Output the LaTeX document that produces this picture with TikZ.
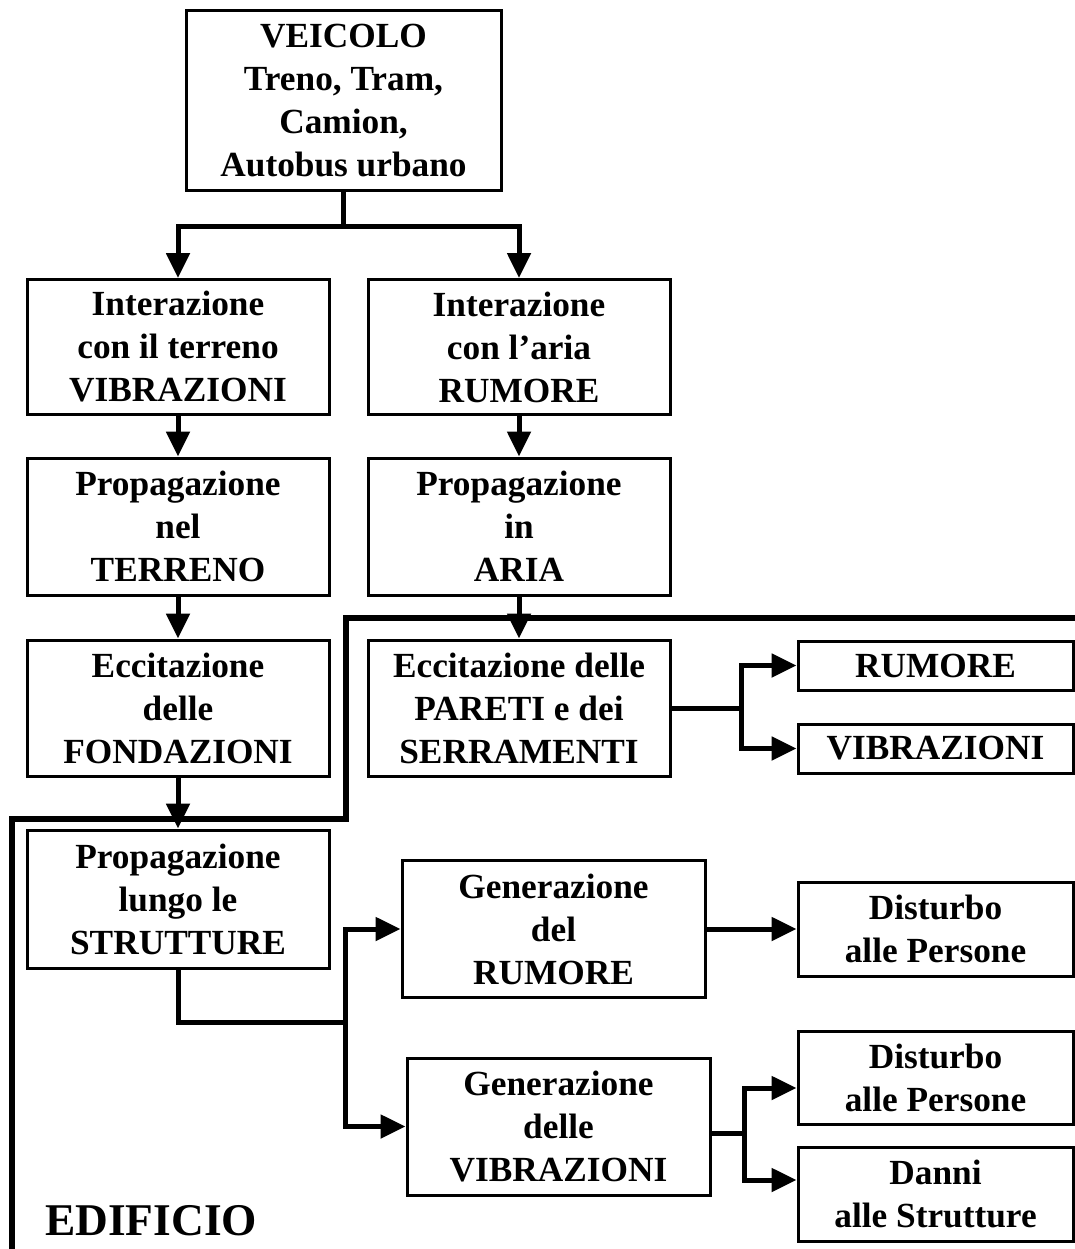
\documentclass[tikz,border=0pt]{standalone}
\usepackage{fontspec}
\setmainfont{Liberation Serif}
\usetikzlibrary{arrows.meta}
\begin{document}
\begin{tikzpicture}[x=1pt,y=-1pt,
  box/.style={draw=black,line width=3pt,rectangle,inner sep=0pt,align=center,
    font=\fontsize{35.3}{43}\selectfont\bfseries},
  conn/.style={line width=5pt,line cap=butt},
  arr/.style={conn,-{Triangle[length=25pt,width=23pt]}},
  wall/.style={line width=6pt,line join=miter}
]
\useasboundingbox (0,0) rectangle (1075,1249);
% boxes
\node[box,minimum width=315,minimum height=180] (veic) at (343.5,101) {VEICOLO\\Treno, Tram,\\Camion,\\Autobus urbano};
\node[box,minimum width=302,minimum height=135] (intT) at (178,347) {Interazione\\con il terreno\\VIBRAZIONI};
\node[box,minimum width=302,minimum height=135] (intA) at (519,347) {Interazione\\con l’aria\\RUMORE};
\node[box,minimum width=302,minimum height=137] (propT) at (178,526.5) {Propagazione\\nel\\TERRENO};
\node[box,minimum width=302,minimum height=137] (propA) at (519,526.5) {Propagazione\\in\\ARIA};
\node[box,minimum width=302,minimum height=136] (eccF) at (178,708) {Eccitazione\\delle\\FONDAZIONI};
\node[box,minimum width=302,minimum height=136] (eccP) at (519,708) {Eccitazione delle\\PARETI e dei\\SERRAMENTI};
\node[box,minimum width=275,minimum height=49] (rum1) at (935.5,665.5) {RUMORE};
\node[box,minimum width=275,minimum height=49] (vib1) at (935.5,748.5) {VIBRAZIONI};
\node[box,minimum width=302,minimum height=138] (propS) at (178,899) {Propagazione\\lungo le\\STRUTTURE};
\node[box,minimum width=303,minimum height=137] (genR) at (553.5,929) {Generazione\\del\\RUMORE};
\node[box,minimum width=303,minimum height=137] (genV) at (558.5,1126.5) {Generazione\\delle\\VIBRAZIONI};
\node[box,minimum width=275,minimum height=94] (dist1) at (935.5,929) {Disturbo\\alle Persone};
\node[box,minimum width=275,minimum height=93] (dist2) at (935.5,1077.5) {Disturbo\\alle Persone};
\node[box,minimum width=275,minimum height=94] (danni) at (935.5,1194) {Danni\\alle Strutture};
\node[anchor=base west,inner sep=0pt,font=\fontsize{45.4}{50}\selectfont\bfseries] (edif) at (45,1235) {EDIFICIO};
% building outline
\coordinate (w1) at (1075,618);
\coordinate (w2) at (346,618);
\coordinate (w3) at (346,819);
\coordinate (w4) at (12,819);
\coordinate (w5) at (12,1249);
\draw[wall] (w1) -- (w2) -- (w3) -- (w4) -- (w5);
% connectors
\coordinate (j1) at ([yshift=-34pt]veic.south);
\draw[conn] (veic.south) -- (j1);
\draw[arr] (j1) -| (intT.north);
\draw[arr] (j1) -| (intA.north);
\draw[arr] (intT) -- (propT);
\draw[arr] (intA) -- (propA);
\draw[arr] (propT) -- (eccF);
\draw[arr] (propA) -- (eccP);
\draw[arr] (eccF) -- (propS);
\coordinate (j2) at ([xshift=70pt]eccP.east);
\draw[conn] (eccP.east) -- (j2);
\draw[arr] (j2) |- (rum1.west);
\draw[arr] (j2) |- (vib1.west);
\coordinate (j3) at (178,1022);
\coordinate (j4) at (345,1022);
\draw[conn] (propS.south) -- (j3) -- (j4);
\draw[arr] (j4) |- (genR.west);
\draw[arr] (j4) |- (genV.west);
\draw[arr] (genR) -- (dist1);
\coordinate (j5) at ([xshift=33pt,yshift=-6.5pt]genV.east);
\draw[conn] ([yshift=-6.5pt]genV.east) -- (j5);
\draw[arr] (j5) |- ([yshift=-10.5pt]dist2.west);
\draw[arr] (j5) |- ([yshift=14pt]danni.west);
\end{tikzpicture}
\end{document}
